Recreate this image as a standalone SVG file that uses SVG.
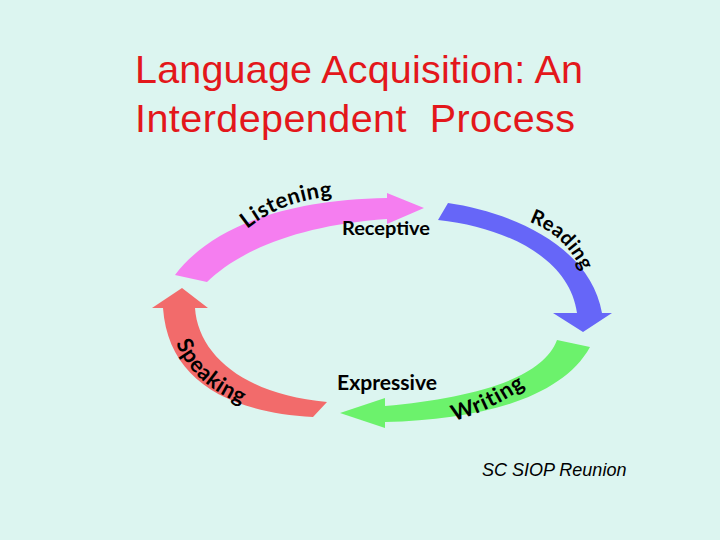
<svg xmlns="http://www.w3.org/2000/svg" width="720" height="540" viewBox="0 0 720 540">
<style>
.title{font-family:"Liberation Sans",Arial,sans-serif;font-size:39.5px;fill:#e3171b}
.lbl{font-family:Lato,"DejaVu Sans",sans-serif;font-weight:bold;fill:#000}
.foot{font-family:"Liberation Sans",Arial,sans-serif;font-size:18px;font-style:italic;fill:#000}
</style>
<defs>
<path id="pListen" d="M247,229 Q279,203 326,197 T380,196"/>
<path id="pRead" d="M529,222 Q565,234 584,275"/>
<path id="pSpeak" d="M176,343 Q194,388 252,408"/>
<path id="pWrite" d="M454,421 Q492,411 532,382"/>
</defs>
<rect width="720" height="540" fill="#dcf5f0"/>
<g id="title">
<text class="title" x="135" y="83" textLength="448">Language Acquisition: An</text>
<text class="title" x="135" y="132" xml:space="preserve" textLength="440">Interdependent  Process</text>
</g>
<g id="connectors">
<g id="listening">
<path d="M175,275 C205,235 270,200 387,198 L387,193 L424,208 L387,224 L387,219 C300,225 240,250 207,282 Z" fill="#f57ef0"/>
<text class="lbl" font-size="22" letter-spacing="0.5"><textPath href="#pListen">Listening</textPath></text>
</g>
<g id="reading">
<path d="M448,203 C510,212 590,245 602,313 L612,313 L583,332 L553,313 L577,313 C570,260 510,228 438,220 Z" fill="#6666f8"/>
<text class="lbl" font-size="20" letter-spacing="0.5"><textPath href="#pRead">Reading</textPath></text>
</g>
<g id="writing">
<path d="M557,340 C542,380 470,398 385,406 L385,398 L340,413 L385,428 L385,422 C480,420 562,398 590,347 Z" fill="#6cf26c"/>
<text class="lbl" font-size="22" letter-spacing="1"><textPath href="#pWrite">Writing</textPath></text>
</g>
<g id="speaking">
<path d="M313,417 C225,412 168,378 163,308 L152,308 L182,288 L208,308 L195,308 C198,355 245,395 327,402 Z" fill="#f26b6b"/>
<text class="lbl" font-size="22" letter-spacing="0.5"><textPath href="#pSpeak">Speaking</textPath></text>
</g>
</g>
<g id="receptive"><text class="lbl" x="342" y="235" font-size="18" textLength="88" lengthAdjust="spacingAndGlyphs">Receptive</text></g>
<g id="expressive"><text class="lbl" x="337" y="390" font-size="20" textLength="100" lengthAdjust="spacingAndGlyphs">Expressive</text></g>
<g id="footer"><text class="foot" x="482" y="476">SC SIOP Reunion</text></g>
</svg>
